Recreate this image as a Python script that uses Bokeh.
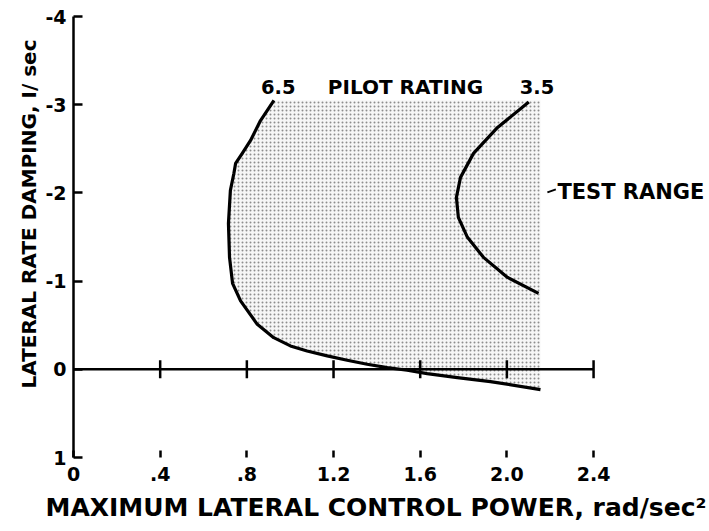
import math
from bokeh.plotting import figure
from bokeh.models import Range1d, FixedTicker, Label, Title
from bokeh.embed import file_html
from bokeh.resources import INLINE

# ---- data ----
x_ticks = [0, 0.4, 0.8, 1.2, 1.6, 2.0, 2.4]
x_tick_labels = ["0", ".4", ".8", "1.2", "1.6", "2.0", "2.4"]
y_ticks = [-4, -3, -2, -1, 0, 1]
y_tick_labels = ["-4", "-3", "-2", "-1", "0", "1"]

# pilot rating 6.5 boundary (left edge and lower edge of test range)
rating65_x = [0.925, 0.863, 0.817, 0.778, 0.748, 0.740, 0.724, 0.715, 0.720, 0.734, 0.771, 0.848, 0.924,
              1.001, 1.078, 1.171, 1.263, 1.355, 1.448, 1.540, 1.632, 1.771, 1.924, 2.155]
rating65_y = [-3.05, -2.82, -2.595, -2.445, -2.334, -2.22, -2.028, -1.654, -1.269, -0.975, -0.775, -0.510, -0.359,
              -0.265, -0.208, -0.152, -0.102, -0.057, -0.019, 0.011, 0.049, 0.094, 0.139, 0.230]

# pilot rating 3.5 boundary
rating35_x = [2.101, 1.957, 1.846, 1.786, 1.767, 1.776, 1.818, 1.892, 2.003, 2.146]
rating35_y = [-3.03, -2.742, -2.448, -2.176, -1.949, -1.722, -1.496, -1.269, -1.042, -0.861]

# test range limits
test_x_max = 2.155
test_y_top = -3.05

# zero reference line
zero_line_x = [0, 2.4]

FONT = "DejaVu Sans"

p = figure(width=709, height=531, output_backend="svg", toolbar_location=None,
           x_range=Range1d(0, 2.935), y_range=Range1d(1, -4),
           min_border_left=73, min_border_right=0, min_border_top=16, min_border_bottom=74)
p.outline_line_color = None
p.grid.visible = False
p.background_fill_color = "white"

# shaded test range
patch_x = rating65_x + [test_x_max, test_x_max]
patch_y = rating65_y + [rating65_y[-1], test_y_top]
p.patch(patch_x, patch_y, fill_color="#f6f6f6", line_color=None,
        hatch_pattern="dot", hatch_scale=4, hatch_weight=1.3, hatch_color="#7a7a7a", hatch_alpha=0.85)

# zero line with ticks
p.line(zero_line_x, [0, 0], line_color="black", line_width=2.5)
p.scatter(x_ticks[1:], [0] * (len(x_ticks) - 1), marker="dash", angle=math.pi / 2,
          size=18, line_color="black", line_width=2.5)

# rating curves
p.line(rating65_x, rating65_y, line_color="black", line_width=3.2, line_join="round")
p.line(rating35_x, rating35_y, line_color="black", line_width=3.2, line_join="round")

# axes
ya = p.yaxis[0]
ya.ticker = FixedTicker(ticks=y_ticks)
ya.major_label_overrides = {t: l for t, l in zip(y_ticks, y_tick_labels)}
ya.major_tick_in = 9
ya.major_tick_out = 0
ya.minor_tick_line_color = None
ya.axis_line_width = 2.5
ya.major_tick_line_width = 2.5
ya.major_label_standoff = 7
ya.major_label_text_font = FONT
ya.major_label_text_font_style = "bold"
ya.major_label_text_font_size = "19px"
ya.major_label_text_color = "black"

xa = p.xaxis[0]
xa.ticker = FixedTicker(ticks=x_ticks)
xa.major_label_overrides = {t: l for t, l in zip(x_ticks, x_tick_labels)}
xa.axis_line_color = None
xa.major_tick_in = 7
xa.major_tick_out = 0
xa.major_tick_line_width = 2.5
xa.minor_tick_line_color = None
xa.major_label_standoff = 9
xa.major_label_text_font = FONT
xa.major_label_text_font_style = "bold"
xa.major_label_text_font_size = "19px"
xa.major_label_text_color = "black"

# axis titles as side titles (offset like the reference)
p.add_layout(Title(text="LATERAL RATE DAMPING, I/ sec", align="left", offset=69,
                   text_font=FONT, text_font_style="bold", text_font_size="20px",
                   text_color="black", standoff=3), "left")
p.add_layout(Title(text="MAXIMUM LATERAL CONTROL POWER, rad/sec\u00b2", align="left", offset=-28,
                   text_font=FONT, text_font_style="bold", text_font_size="25px",
                   text_color="black", standoff=15), "below")

def lab(x, y, t, size, align="center"):
    p.add_layout(Label(x=x, y=y, text=t, text_font=FONT, text_font_style="bold",
                       text_font_size=size, text_align=align, text_baseline="alphabetic",
                       text_color="black"))

lab(0.945, -3.197, "6.5", "19.5px")
lab(1.532, -3.197, "PILOT RATING", "20px")
lab(2.139, -3.197, "3.5", "19.5px")
lab(2.233, -2.01, "TEST RANGE", "21px", align="left")
p.segment(x0=[2.187], y0=[-2.006], x1=[2.226], y1=[-2.04], line_color="black", line_width=2)

open("out.html", "w").write(file_html(p, INLINE))
